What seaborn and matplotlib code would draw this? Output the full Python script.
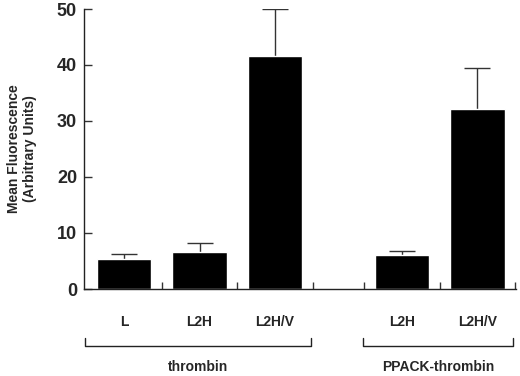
import numpy as np
import pandas as pd
import seaborn as sns
import matplotlib
matplotlib.use("Agg")
import matplotlib.pyplot as plt

# values
groups = ["thrombin", "thrombin", "thrombin", "PPACK-thrombin", "PPACK-thrombin"]
labels = ["L", "L2H", "L2H/V", "L2H", "L2H/V"]
means = [5.4, 6.6, 41.6, 6.0, 32.1]
errors = [0.9, 1.6, 8.4, 0.8, 7.4]
yticks = [0, 10, 20, 30, 40, 50]

group_order = ["thrombin", "PPACK-thrombin"]
group_start = {"thrombin": 0.0, "PPACK-thrombin": 3.68}

df = pd.DataFrame({"group": groups, "label": labels, "mean": means, "err": errors})
df["idx"] = df.groupby("group").cumcount()
df["pos"] = df["group"].map(group_start) + df["idx"]

sns.set_style("ticks")
plt.rcParams["font.family"] = ["Liberation Sans", "DejaVu Sans"]
plt.rcParams["font.weight"] = "bold"

fig = plt.figure(figsize=(5.2, 3.76), dpi=100)
ax = fig.add_axes([84 / 520, 1 - 289 / 376, 432 / 520, 280 / 376])

sns.barplot(data=df, x="pos", y="mean", native_scale=True, width=0.72,
            color="black", saturation=1, errorbar=None, ax=ax)
eb = ax.errorbar(df["pos"], df["mean"], yerr=[np.zeros(len(df)), df["err"]],
                 fmt="none", ecolor="#333333", elinewidth=1.0, capsize=9.7,
                 capthick=1.0, zorder=0.9)
# only the upper cap is drawn in the original
for cap in eb.lines[1]:
    if np.allclose(cap.get_ydata(), df["mean"]):
        cap.set_visible(False)

ax.set_ylim(0, 50)
ax.set_xlim(-0.53, 5.19)
sns.despine(ax=ax)
for s in ["left", "bottom"]:
    ax.spines[s].set_linewidth(1.0)
    ax.spines[s].set_color("#222222")

ax.set_yticks(yticks)
ax.set_yticklabels([str(t) for t in yticks], fontsize=13, fontweight="bold")
ax.tick_params(axis="y", direction="in", length=6, width=1.0, pad=5, color="#333333")

# boundary ticks between the bars
bounds = list(df["pos"] + 0.5) + [group_start["PPACK-thrombin"] - 0.5]
ax.set_xticks(sorted(bounds))
ax.set_xticklabels([])
ax.tick_params(axis="x", direction="in", length=5, width=1.0, color="#333333")
ax.set_xlabel("")
ax.set_ylabel("Mean Fluorescence\n(Arbitrary Units)", fontsize=10,
              fontweight="bold", labelpad=14)

xt = ax.get_xaxis_transform()
for p, lab in zip(df["pos"], df["label"]):
    ax.text(p, -0.118, lab, transform=xt, ha="center", va="center",
            fontsize=10, fontweight="bold")

for g in group_order:
    sub = df[df["group"] == g]
    lo = sub["pos"].min() - 0.52
    hi = sub["pos"].max() + 0.47
    ax.plot([lo, lo, hi, hi], [-0.175, -0.204, -0.204, -0.175], transform=xt,
            color="#222222", lw=1.0, clip_on=False)
    ax.text((lo + hi) / 2, -0.279, g, transform=xt, ha="center", va="center",
            fontsize=10, fontweight="bold")

fig.savefig("out.png", dpi=100)
